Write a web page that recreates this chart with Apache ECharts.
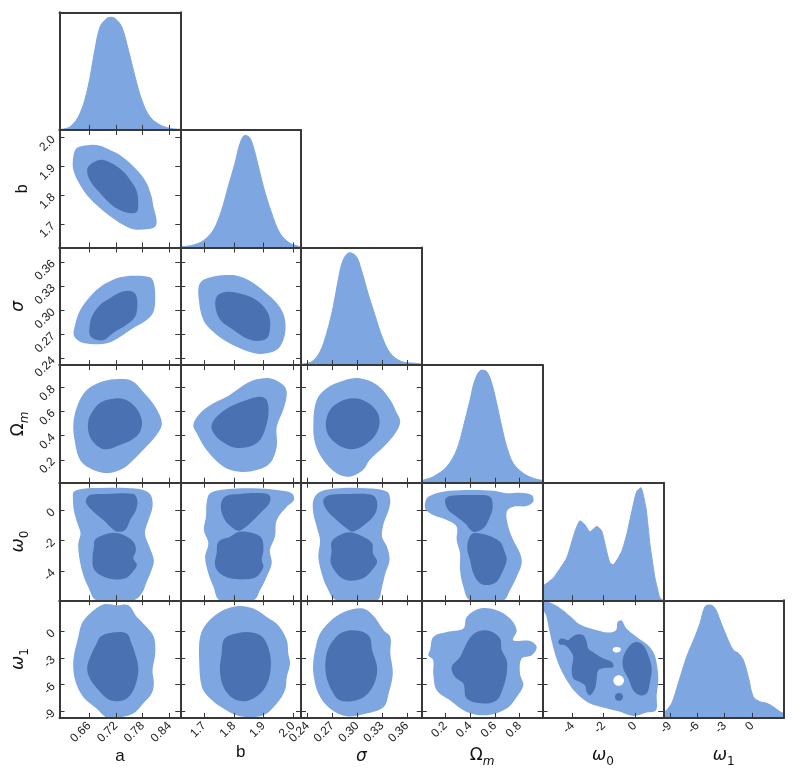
<!DOCTYPE html>
<html>
<head>
<meta charset="utf-8">
<script src="https://cdn.jsdelivr.net/npm/echarts@6/dist/echarts.min.js"></script>
<style>html,body{margin:0;padding:0;background:#fff}#main{width:797px;height:778px}</style>
</head>
<body>
<div id="main"></div>
<script>
// parameters: a, b, sigma, Omega_m, omega_0, omega_1
var paramRanges = [[0.594, 0.864], [1.619, 2.027], [0.232, 0.378], [0.01, 0.985], [-5.93, 1.82], [-9.74, 3.5]];
var paramTicks = [
    [0.66, 0.72, 0.78, 0.84],
    [1.7, 1.8, 1.9, 2.0],
    [0.24, 0.27, 0.30, 0.33, 0.36],
    [0.2, 0.4, 0.6, 0.8],
    [-4, -2, 0],
    [-9, -6, -3, 0]
];
var tickDigits = [2, 1, 2, 1, 0, 0];
var nameLabels = ['a', 'b', '{g|σ}', '{t|Ω}{s|m}', '{g|ω}{d|0}', '{g|ω}{d|1}'];

// 1D marginals [value, relative density]
var a_1d = [[0.594,0.004],[0.618,0.028],[0.640,0.147],[0.658,0.384],[0.673,0.710],[0.685,0.917],[0.700,0.99],[0.709,1.0],[0.718,0.99],[0.733,0.917],[0.748,0.710],[0.763,0.472],[0.778,0.266],[0.796,0.117],[0.819,0.044],[0.841,0.014],[0.864,0.005]];
var b_1d = [[1.619,0.005],[1.663,0.022],[1.697,0.060],[1.731,0.155],[1.759,0.333],[1.781,0.540],[1.804,0.748],[1.821,0.925],[1.838,0.996],[1.855,0.970],[1.872,0.837],[1.900,0.540],[1.928,0.304],[1.956,0.126],[1.990,0.037],[2.027,0.006]];
var sigma_1d = [[0.232,0.008],[0.245,0.030],[0.255,0.119],[0.263,0.282],[0.271,0.519],[0.277,0.756],[0.283,0.934],[0.291,0.998],[0.299,0.963],[0.305,0.845],[0.313,0.638],[0.322,0.430],[0.330,0.252],[0.340,0.105],[0.354,0.030],[0.370,0.016],[0.378,0.010]];
var om_1d = [[0.010,0.018],[0.028,0.024],[0.103,0.053],[0.212,0.142],[0.292,0.290],[0.346,0.497],[0.400,0.734],[0.440,0.912],[0.494,1.0],[0.535,0.986],[0.575,0.883],[0.615,0.705],[0.656,0.497],[0.696,0.320],[0.749,0.172],[0.830,0.083],[0.911,0.039],[0.985,0.020]];
var w0_1d = [[-5.93,0.124],[-5.237,0.198],[-4.377,0.376],[-3.844,0.613],[-3.523,0.707],[-3.202,0.671],[-2.881,0.607],[-2.451,0.657],[-2.131,0.618],[-1.810,0.435],[-1.598,0.331],[-1.386,0.316],[-0.847,0.435],[-0.526,0.583],[-0.103,0.849],[0.116,0.968],[0.392,1.0],[0.713,0.820],[0.970,0.494],[1.290,0.198],[1.566,0.036],[1.656,0.014],[1.82,0.0]];
var w1_1d = [[-9.74,0.05],[-9.439,0.064],[-8.814,0.130],[-8.091,0.307],[-7.170,0.544],[-6.260,0.721],[-5.712,0.840],[-5.164,0.988],[-4.616,1.003],[-4.068,0.973],[-3.520,0.869],[-2.786,0.721],[-2.063,0.603],[-1.514,0.574],[-0.967,0.514],[-0.418,0.366],[0.129,0.188],[0.864,0.144],[1.598,0.130],[2.322,0.099],[3.057,0.055],[3.5,0.04]];
var marginals = [a_1d, b_1d, sigma_1d, om_1d, w0_1d, w1_1d];

// 2D contours [x, y]: outer (95%) and inner (68%) regions
var b_a_outer = [[0.629,1.957],[0.640,1.969],[0.662,1.975],[0.685,1.972],[0.707,1.957],[0.729,1.940],[0.752,1.911],[0.774,1.876],[0.789,1.842],[0.800,1.795],[0.804,1.761],[0.811,1.714],[0.808,1.691],[0.789,1.682],[0.759,1.682],[0.737,1.697],[0.714,1.720],[0.685,1.755],[0.655,1.801],[0.636,1.847],[0.625,1.888],[0.624,1.923]];
var b_a_inner = [[0.658,1.899],[0.677,1.920],[0.692,1.923],[0.714,1.909],[0.737,1.882],[0.755,1.847],[0.767,1.813],[0.770,1.772],[0.767,1.743],[0.752,1.738],[0.729,1.749],[0.707,1.772],[0.685,1.807],[0.666,1.842],[0.657,1.871]];

var s_a_outer = [[0.629,0.282],[0.640,0.300],[0.662,0.317],[0.685,0.329],[0.707,0.336],[0.729,0.341],[0.759,0.343],[0.796,0.341],[0.805,0.334],[0.808,0.313],[0.804,0.298],[0.789,0.288],[0.759,0.278],[0.729,0.267],[0.700,0.259],[0.670,0.258],[0.640,0.261],[0.626,0.269]];
var s_a_inner = [[0.661,0.278],[0.666,0.292],[0.685,0.307],[0.707,0.315],[0.729,0.322],[0.752,0.324],[0.765,0.319],[0.768,0.305],[0.763,0.292],[0.744,0.282],[0.714,0.272],[0.692,0.263],[0.673,0.264],[0.662,0.269]];

var s_b_outer = [[1.686,0.334],[1.731,0.342],[1.787,0.344],[1.821,0.342],[1.866,0.334],[1.911,0.321],[1.945,0.309],[1.967,0.296],[1.975,0.280],[1.967,0.263],[1.945,0.251],[1.900,0.246],[1.866,0.247],[1.821,0.253],[1.776,0.261],[1.731,0.273],[1.697,0.288],[1.682,0.313]];
var s_b_inner = [[1.742,0.317],[1.776,0.323],[1.821,0.321],[1.866,0.315],[1.900,0.305],[1.920,0.292],[1.922,0.276],[1.911,0.265],[1.877,0.262],[1.844,0.265],[1.798,0.276],[1.759,0.286],[1.740,0.300]];

var om_a_outer = [[0.625,0.502],[0.636,0.668],[0.655,0.779],[0.685,0.842],[0.718,0.867],[0.755,0.856],[0.781,0.764],[0.808,0.640],[0.823,0.502],[0.811,0.405],[0.781,0.281],[0.759,0.198],[0.737,0.129],[0.700,0.088],[0.662,0.129],[0.640,0.198],[0.629,0.337]];
var om_a_inner = [[0.658,0.516],[0.670,0.613],[0.685,0.673],[0.707,0.701],[0.737,0.704],[0.763,0.640],[0.778,0.530],[0.774,0.433],[0.755,0.364],[0.729,0.323],[0.700,0.287],[0.681,0.308],[0.662,0.391]];

var om_b_outer = [[1.663,0.488],[1.686,0.585],[1.731,0.668],[1.776,0.723],[1.810,0.779],[1.844,0.834],[1.877,0.867],[1.922,0.876],[1.967,0.820],[1.979,0.751],[1.967,0.613],[1.945,0.474],[1.945,0.308],[1.922,0.171],[1.877,0.115],[1.821,0.101],[1.765,0.143],[1.708,0.281],[1.675,0.420]];
var om_b_inner = [[1.725,0.488],[1.742,0.557],[1.787,0.640],[1.844,0.696],[1.889,0.723],[1.911,0.696],[1.917,0.585],[1.905,0.447],[1.883,0.350],[1.844,0.304],[1.798,0.304],[1.753,0.364],[1.729,0.433]];

var om_s_outer = [[0.247,0.516],[0.251,0.696],[0.263,0.793],[0.283,0.856],[0.303,0.876],[0.324,0.820],[0.340,0.696],[0.348,0.585],[0.352,0.516],[0.346,0.420],[0.332,0.308],[0.315,0.198],[0.307,0.115],[0.291,0.060],[0.275,0.088],[0.259,0.198],[0.249,0.337]];
var om_s_inner = [[0.262,0.502],[0.267,0.613],[0.279,0.682],[0.295,0.710],[0.311,0.682],[0.324,0.599],[0.327,0.502],[0.322,0.405],[0.309,0.323],[0.293,0.287],[0.277,0.323],[0.265,0.405]];

var w0_a_outer = [[0.626,1.227],[0.647,1.424],[0.685,1.471],[0.744,1.471],[0.781,1.339],[0.798,1.009],[0.802,0.238],[0.793,-0.638],[0.785,-1.515],[0.795,-2.398],[0.805,-3.274],[0.800,-3.933],[0.789,-4.704],[0.778,-5.469],[0.759,-5.93],[0.677,-5.93],[0.658,-5.034],[0.646,-4.151],[0.638,-3.057],[0.636,-2.174],[0.641,-1.515],[0.634,-0.856],[0.626,0.021],[0.624,0.792]];
var w0_a_inner1 = [[0.653,0.680],[0.662,1.009],[0.700,1.075],[0.759,1.075],[0.768,0.680],[0.765,0.021],[0.752,-0.638],[0.741,-1.297],[0.722,-1.409],[0.711,-1.185],[0.692,-0.638],[0.670,-0.091],[0.656,0.350]];
var w0_a_inner2 = [[0.673,-1.956],[0.692,-1.627],[0.714,-1.475],[0.737,-1.627],[0.759,-2.068],[0.765,-2.615],[0.759,-3.162],[0.767,-3.604],[0.755,-4.151],[0.741,-4.480],[0.714,-4.546],[0.685,-4.263],[0.670,-3.821],[0.668,-3.057],[0.671,-2.398]];

var w0_b_outer = [[1.708,0.462],[1.720,1.121],[1.776,1.385],[1.866,1.451],[1.945,1.339],[1.996,1.121],[2.003,0.680],[1.979,0.238],[1.945,-0.638],[1.939,-1.739],[1.922,-2.615],[1.928,-3.492],[1.911,-4.375],[1.889,-5.251],[1.866,-5.93],[1.753,-5.93],[1.731,-5.034],[1.714,-4.151],[1.703,-3.057],[1.714,-2.174],[1.699,-1.297],[1.706,-0.421]];
var w0_b_inner1 = [[1.756,0.238],[1.770,0.897],[1.821,1.075],[1.900,1.121],[1.922,0.943],[1.920,0.462],[1.889,-0.197],[1.855,-0.856],[1.819,-1.343],[1.798,-1.185],[1.770,-0.638]];
var w0_b_inner2 = [[1.748,-2.068],[1.787,-1.739],[1.819,-1.409],[1.866,-1.515],[1.894,-1.844],[1.900,-2.615],[1.894,-3.274],[1.900,-3.716],[1.877,-4.375],[1.838,-4.546],[1.787,-4.480],[1.753,-4.151],[1.736,-3.604],[1.742,-2.833]];

var w0_s_outer = [[0.247,0.680],[0.255,1.227],[0.279,1.451],[0.311,1.451],[0.336,1.227],[0.340,0.680],[0.338,0.021],[0.332,-0.856],[0.330,-1.739],[0.336,-2.398],[0.339,-3.274],[0.334,-4.151],[0.330,-5.034],[0.324,-5.93],[0.275,-5.93],[0.263,-5.034],[0.257,-4.151],[0.253,-3.057],[0.255,-1.956],[0.251,-1.080],[0.247,-0.197]];
var w0_s_inner1 = [[0.259,0.680],[0.267,1.009],[0.291,1.075],[0.318,1.009],[0.324,0.573],[0.322,-0.197],[0.311,-0.856],[0.295,-1.409],[0.287,-1.185],[0.275,-0.638],[0.263,0.021]];
var w0_s_inner2 = [[0.269,-2.068],[0.279,-1.627],[0.291,-1.449],[0.307,-1.739],[0.318,-2.174],[0.319,-2.833],[0.324,-3.386],[0.318,-3.933],[0.307,-4.480],[0.291,-4.638],[0.279,-4.375],[0.268,-3.492],[0.269,-2.727]];

var w0_om_outer = [[0.036,0.462],[0.063,0.897],[0.184,1.227],[0.373,1.339],[0.588,1.293],[0.696,1.121],[0.803,1.161],[0.898,1.009],[0.911,0.573],[0.858,0.284],[0.749,0.238],[0.696,-0.091],[0.709,-1.080],[0.749,-1.956],[0.803,-2.833],[0.817,-3.492],[0.777,-4.375],[0.723,-5.251],[0.669,-5.93],[0.400,-5.93],[0.346,-5.034],[0.319,-3.933],[0.319,-2.833],[0.292,-1.956],[0.292,-1.080],[0.212,-0.638],[0.103,-0.309],[0.044,0.021]];
var w0_om_inner1 = [[0.198,0.680],[0.238,0.943],[0.426,1.009],[0.561,0.897],[0.583,0.238],[0.561,-0.421],[0.507,-1.185],[0.426,-1.409],[0.359,-0.856],[0.292,-0.421],[0.224,0.021]];
var w0_om_inner2 = [[0.386,-1.956],[0.426,-1.515],[0.535,-1.627],[0.642,-2.068],[0.674,-2.615],[0.696,-3.274],[0.656,-4.151],[0.615,-4.704],[0.547,-4.922],[0.480,-4.810],[0.426,-4.151],[0.400,-3.274],[0.378,-2.615]];

var w1_a_outer = [[0.636,-0.619],[0.644,0.889],[0.662,2.015],[0.692,3.029],[0.722,2.950],[0.748,2.950],[0.767,1.633],[0.789,0.507],[0.805,-0.619],[0.808,-2.489],[0.802,-4.369],[0.805,-5.867],[0.800,-6.993],[0.781,-8.119],[0.759,-9.245],[0.722,-9.74],[0.700,-9.74],[0.677,-8.682],[0.647,-7.375],[0.629,-5.495],[0.625,-3.243]];
var w1_a_inner = [[0.677,-1.363],[0.685,-0.619],[0.707,-0.169],[0.744,-0.237],[0.755,-1.363],[0.763,-2.489],[0.770,-3.997],[0.767,-5.495],[0.755,-6.993],[0.737,-7.747],[0.707,-7.747],[0.685,-6.812],[0.662,-5.304],[0.656,-3.997],[0.666,-2.489]];

var w1_b_outer = [[1.686,-0.619],[1.708,0.889],[1.753,2.196],[1.810,2.837],[1.866,2.578],[1.911,1.633],[1.950,0.698],[1.979,-0.991],[1.984,-2.489],[1.990,-3.615],[1.979,-5.123],[1.973,-6.621],[1.945,-8.119],[1.900,-9.436],[1.821,-9.549],[1.765,-8.682],[1.720,-7.556],[1.692,-6.249],[1.683,-3.243]];
var w1_b_inner = [[1.765,-0.991],[1.787,-0.428],[1.844,-0.056],[1.889,-0.428],[1.911,-1.363],[1.925,-3.243],[1.917,-5.495],[1.889,-6.993],[1.844,-7.826],[1.798,-7.556],[1.765,-6.249],[1.753,-4.369],[1.759,-2.489]];

var w1_s_outer = [[0.249,-2.117],[0.255,-0.237],[0.271,1.452],[0.287,2.308],[0.307,2.578],[0.319,1.824],[0.332,0.135],[0.340,-0.619],[0.340,-2.489],[0.343,-4.741],[0.338,-6.993],[0.332,-8.501],[0.311,-9.245],[0.287,-9.549],[0.267,-8.682],[0.253,-6.993],[0.247,-4.741],[0.247,-3.243]];
var w1_s_inner = [[0.263,-2.489],[0.271,-0.991],[0.283,-0.056],[0.303,0.056],[0.315,-0.619],[0.318,-2.117],[0.324,-3.997],[0.322,-5.495],[0.313,-6.993],[0.299,-7.747],[0.279,-7.747],[0.269,-6.621],[0.262,-4.741]];

var w1_om_outer = [[0.077,-2.117],[0.103,-0.619],[0.212,-0.056],[0.346,0.326],[0.373,1.633],[0.480,2.578],[0.615,2.387],[0.723,1.452],[0.777,0.135],[0.749,-0.991],[0.884,-1.070],[0.938,-1.745],[0.898,-2.680],[0.817,-3.052],[0.803,-4.741],[0.830,-6.058],[0.777,-7.375],[0.696,-8.682],[0.535,-9.436],[0.373,-9.064],[0.238,-7.747],[0.131,-6.621],[0.103,-4.741],[0.103,-3.243],[0.063,-2.680]];
var w1_om_inner = [[0.252,-3.997],[0.319,-2.871],[0.386,-0.991],[0.454,-0.056],[0.561,0.056],[0.642,-0.800],[0.656,-2.117],[0.696,-3.243],[0.696,-4.741],[0.669,-6.249],[0.615,-7.747],[0.507,-8.119],[0.373,-7.556],[0.346,-5.867],[0.279,-5.123]];

var w1_w0_outer = [[-5.93,3.45],[-5.449,3.254],[-4.807,2.646],[-4.165,1.745],[-3.523,0.777],[-2.670,0.248],[-1.707,-0.124],[-1.213,0.135],[-1.104,1.070],[-0.847,1.227],[-0.571,0.394],[0.116,-0.619],[0.796,-1.475],[1.226,-2.489],[1.438,-3.997],[1.502,-5.495],[1.399,-7.184],[1.354,-8.873],[0.758,-9.132],[-0.103,-9.515],[-1.065,-8.986],[-1.919,-8.614],[-2.881,-8.119],[-3.735,-6.993],[-4.377,-5.495],[-4.916,-3.615],[-5.275,-1.554],[-5.494,0.135],[-5.705,1.824],[-5.93,2.578]];
var w1_w0_inner1 = [[-4.165,-0.800],[-3.735,-0.349],[-3.311,-0.428],[-3.093,-1.182],[-2.991,-1.926],[-2.561,-2.489],[-2.028,-3.052],[-1.489,-3.434],[-1.387,-3.997],[-1.919,-4.110],[-2.349,-4.369],[-2.451,-5.304],[-2.561,-6.430],[-2.881,-7.184],[-3.093,-6.812],[-3.202,-6.058],[-3.523,-5.686],[-3.953,-5.304],[-4.056,-4.178],[-3.953,-2.871],[-4.165,-2.117],[-4.486,-1.554],[-4.807,-1.475],[-4.916,-1.104],[-4.698,-0.800],[-4.274,-0.991]];
var w1_w0_inner2 = [[-0.744,-2.871],[-0.314,-1.554],[0.116,-1.182],[0.539,-1.554],[0.860,-2.680],[1.078,-4.178],[0.969,-5.686],[0.758,-6.993],[0.328,-7.184],[-0.103,-6.621],[-0.423,-5.304],[-0.744,-4.178]];
var w1_w0_inner3 = [[-1.02,-6.93],[-0.84,-7.05],[-0.76,-7.37],[-0.84,-7.70],[-1.02,-7.82],[-1.20,-7.70],[-1.28,-7.37],[-1.20,-7.05]];
var w1_w0_hole1 = [[-1.168,-1.75],[-0.95,-1.85],[-0.91,-2.06],[-0.99,-2.30],[-1.17,-2.38],[-1.35,-2.28],[-1.43,-2.06],[-1.35,-1.82]];
var w1_w0_hole2 = [[-1.04,-4.93],[-0.80,-5.10],[-0.70,-5.53],[-0.80,-5.95],[-1.04,-6.13],[-1.28,-5.95],[-1.38,-5.53],[-1.28,-5.10]];

var contours = [
    {r: 1, c: 0, outer: [b_a_outer], inner: [b_a_inner]},
    {r: 2, c: 0, outer: [s_a_outer], inner: [s_a_inner]},
    {r: 2, c: 1, outer: [s_b_outer], inner: [s_b_inner]},
    {r: 3, c: 0, outer: [om_a_outer], inner: [om_a_inner]},
    {r: 3, c: 1, outer: [om_b_outer], inner: [om_b_inner]},
    {r: 3, c: 2, outer: [om_s_outer], inner: [om_s_inner]},
    {r: 4, c: 0, outer: [w0_a_outer], inner: [w0_a_inner1, w0_a_inner2]},
    {r: 4, c: 1, outer: [w0_b_outer], inner: [w0_b_inner1, w0_b_inner2]},
    {r: 4, c: 2, outer: [w0_s_outer], inner: [w0_s_inner1, w0_s_inner2]},
    {r: 4, c: 3, outer: [w0_om_outer], inner: [w0_om_inner1, w0_om_inner2]},
    {r: 5, c: 0, outer: [w1_a_outer], inner: [w1_a_inner]},
    {r: 5, c: 1, outer: [w1_b_outer], inner: [w1_b_inner]},
    {r: 5, c: 2, outer: [w1_s_outer], inner: [w1_s_inner]},
    {r: 5, c: 3, outer: [w1_om_outer], inner: [w1_om_inner]},
    {r: 5, c: 4, outer: [w1_w0_outer], inner: [w1_w0_inner1, w1_w0_inner2, w1_w0_inner3], holes: [w1_w0_hole1, w1_w0_hole2]}
];

var LIGHT = '#7EA6E0', DARK = '#4A72B2', FRAME = '#383838';
var colX = [59.5, 180.25, 301, 421.75, 542.5, 663.25];
var rowY = [12.3, 129.9, 247.5, 365.1, 482.7, 600.3];
var cellW = 120.75, cellH = 117.6;

var rich = {
    g: {fontFamily: 'DejaVu Sans', fontStyle: 'italic', fontSize: 17, lineHeight: 24},
    t: {fontFamily: 'DejaVu Sans', fontSize: 17, lineHeight: 24},
    s: {fontFamily: 'DejaVu Sans', fontStyle: 'italic', fontSize: 12, lineHeight: 12, verticalAlign: 'bottom'},
    d: {fontFamily: 'DejaVu Sans', fontSize: 12, lineHeight: 12, verticalAlign: 'bottom'}
};

function fmt(p) {
    return function (v) { return v.toFixed(tickDigits[p]); };
}

function makeX(gi, p, pos, ticks, labels) {
    return {
        gridIndex: gi, type: 'value', position: pos, z: 5,
        min: paramRanges[p][0], max: paramRanges[p][1],
        axisLine: {show: true, onZero: false, lineStyle: {color: FRAME, width: 2}},
        axisTick: {show: ticks, inside: true, length: 5, customValues: paramTicks[p], lineStyle: {color: FRAME, width: 1}},
        axisLabel: {show: labels, customValues: paramTicks[p], rotate: 45, margin: 6, fontSize: 12,
            fontFamily: 'Liberation Sans', color: '#222', formatter: fmt(p)},
        splitLine: {show: false},
        name: labels ? nameLabels[p] : '', nameLocation: 'middle', nameGap: 26,
        nameTextStyle: {fontFamily: 'Liberation Sans', fontSize: 17, color: '#111', rich: rich}
    };
}

function makeY(gi, p, pos, labels) {
    return {
        gridIndex: gi, type: 'value', position: pos, z: 5,
        min: paramRanges[p][0], max: paramRanges[p][1],
        axisLine: {show: true, onZero: false, lineStyle: {color: FRAME, width: 2}},
        axisTick: {show: true, inside: true, length: 5, customValues: paramTicks[p], lineStyle: {color: FRAME, width: 1}},
        axisLabel: {show: labels, customValues: paramTicks[p], rotate: 45, margin: 6, fontSize: 12,
            fontFamily: 'Liberation Sans', color: '#222', formatter: fmt(p)},
        splitLine: {show: false},
        name: labels ? nameLabels[p] : '', nameLocation: 'middle', nameGap: 29,
        nameTextStyle: {fontFamily: 'Liberation Sans', fontSize: 16, color: '#111', rich: rich}
    };
}

function diagY(gi, pos) {
    return {
        gridIndex: gi, type: 'value', position: pos, z: 5, min: 0, max: 1.0444,
        axisLine: {show: true, onZero: false, lineStyle: {color: FRAME, width: 2}},
        axisTick: {show: false}, axisLabel: {show: false}, splitLine: {show: false}
    };
}

var grids = [], xAxes = [], yAxes = [], series = [];
var cellAxes = {};

for (var r = 0; r < 6; r++) {
    for (var c = 0; c <= r; c++) {
        var gi = grids.length;
        var diag = r === c;
        grids.push({left: colX[c], top: rowY[r], width: cellW, height: cellH});
        var xi = xAxes.length, yi = yAxes.length;
        xAxes.push(makeX(gi, c, 'bottom', true, r === 5));
        xAxes.push(makeX(gi, c, 'top', !diag, false));
        if (diag) {
            yAxes.push(diagY(gi, 'left'));
            yAxes.push(diagY(gi, 'right'));
        } else {
            yAxes.push(makeY(gi, r, 'left', c === 0));
            yAxes.push(makeY(gi, r, 'right', false));
        }
        cellAxes[r + '_' + c] = {x: xi, y: yi};
    }
}

// marginals
marginals.forEach(function (m, p) {
    var ax = cellAxes[p + '_' + p];
    series.push({
        type: 'line', xAxisIndex: ax.x, yAxisIndex: ax.y, data: m,
        showSymbol: false, smooth: p === 4 ? 0.15 : 0.35, silent: true,
        lineStyle: {color: LIGHT, width: 1},
        areaStyle: {color: LIGHT, opacity: 1}
    });
});

function region(ax, pts, fill) {
    return {
        type: 'custom', xAxisIndex: ax.x, yAxisIndex: ax.y, clip: true, silent: true,
        data: [pts[0]],
        renderItem: function (params, api) {
            return {
                type: 'polygon',
                shape: {points: pts.map(function (p) { return api.coord(p); }), smooth: 0.35},
                style: {fill: fill}
            };
        }
    };
}

contours.forEach(function (k) {
    var ax = cellAxes[k.r + '_' + k.c];
    k.outer.forEach(function (pts) { series.push(region(ax, pts, LIGHT)); });
    k.inner.forEach(function (pts) { series.push(region(ax, pts, DARK)); });
    (k.holes || []).forEach(function (pts) { series.push(region(ax, pts, '#ffffff')); });
});

var chart = echarts.init(document.getElementById('main'));
chart.setOption({
    animation: false,
    backgroundColor: '#fff',
    grid: grids,
    xAxis: xAxes,
    yAxis: yAxes,
    series: series
});
</script>
</body>
</html>
